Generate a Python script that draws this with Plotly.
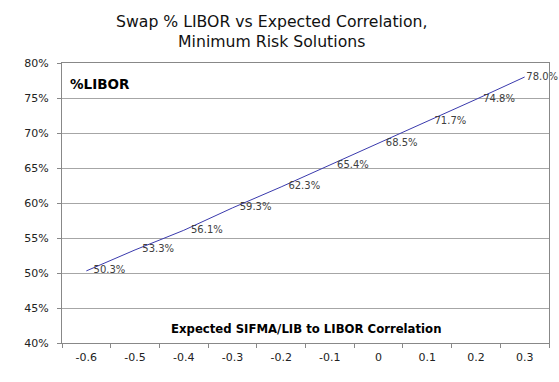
import plotly.graph_objects as go

correlation = ["-0.6", "-0.5", "-0.4", "-0.3", "-0.2", "-0.1", "0", "0.1", "0.2", "0.3"]
pct_libor = [0.503, 0.533, 0.561, 0.593, 0.623, 0.654, 0.685, 0.717, 0.748, 0.780]
labels = [f"{v*100:.1f}%" for v in pct_libor]

font_family = "DejaVu Sans, Verdana, sans-serif"

# invisible markers only to set label offset; last label sits closer to its point
marker_sizes = [10] * (len(pct_libor) - 1) + [1]

fig = go.Figure()
fig.add_trace(go.Scatter(
    x=correlation, y=pct_libor, mode="lines+markers+text",
    line=dict(color="#3a3aad", width=1),
    marker=dict(size=marker_sizes, color="rgba(0,0,0,0)", opacity=0,
                line=dict(width=0, color="rgba(0,0,0,0)")),
    text=labels, textposition="middle right",
    textfont=dict(family=font_family, size=10, color="#404040"),
    showlegend=False, cliponaxis=False, hoverinfo="skip",
))

fig.update_layout(
    width=559, height=382,
    margin=dict(l=62, r=10, t=63, b=39),
    paper_bgcolor="white", plot_bgcolor="white",
    font=dict(family=font_family, size=11, color="#222"),
    xaxis=dict(type="category", range=[-0.5, len(correlation) - 0.5],
               tickson="boundaries", ticks="outside", ticklen=4,
               tickcolor="#888", showgrid=False, showline=True, linecolor="#888",
               mirror=True, zeroline=False, ticklabelstandoff=4,
               tickfont=dict(size=11, color="#222")),
    yaxis=dict(range=[0.4, 0.8], dtick=0.05, tickformat=".0%", ticks="outside",
               ticklen=4, tickcolor="#888", showgrid=True, gridcolor="#a6a6a6",
               showline=True, linecolor="#888", mirror=True, zeroline=False,
               ticklabelstandoff=6,
               tickfont=dict(size=11, color="#222")),
    annotations=[
        dict(text="Swap % LIBOR vs Expected Correlation,<br>Minimum Risk Solutions",
             xref="paper", yref="paper", x=0.431, y=1.111,
             xanchor="center", yanchor="middle", showarrow=False,
             font=dict(family=font_family, size=15.7, color="#111")),
        dict(text="<b>%LIBOR</b>", xref="paper", yref="paper", x=0.012, y=0.925,
             xanchor="left", yanchor="middle", showarrow=False,
             font=dict(family=font_family, size=13.5, color="#000")),
        dict(text="<b>Expected SIFMA/LIB to LIBOR Correlation</b>", xref="paper", yref="paper",
             x=0.5, y=0.05, xanchor="center", yanchor="middle", showarrow=False,
             font=dict(family=font_family, size=11.7, color="#000")),
    ],
)

fig.write_html("out.html", config={"displayModeBar": False},
               post_script="document.body.style.margin='0';")
